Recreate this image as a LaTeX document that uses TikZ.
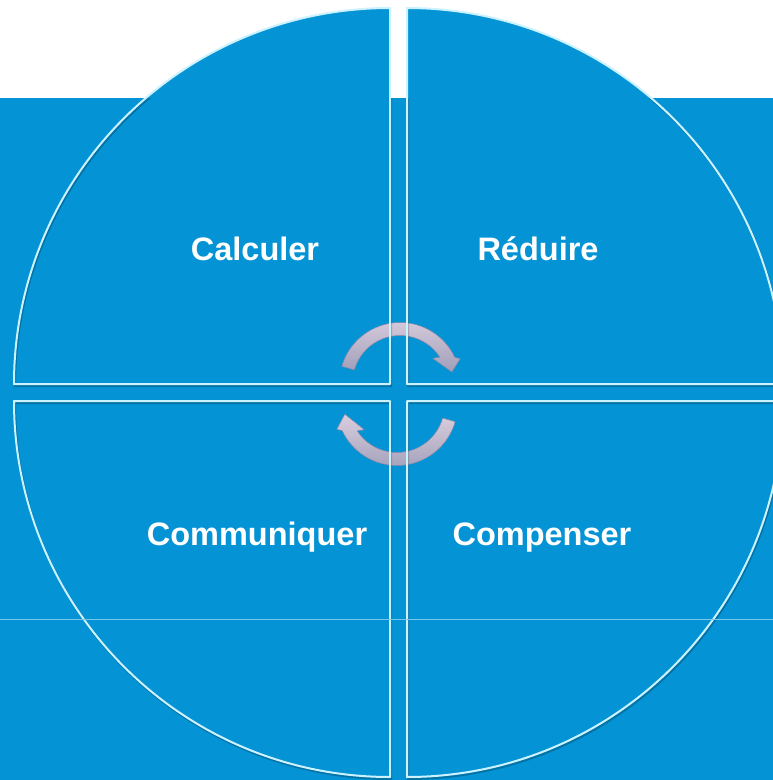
\documentclass[tikz,border=0pt]{standalone}
\usepackage{fontspec}
\setmainfont{Liberation Sans}
\usepackage{tikz}
\usetikzlibrary{positioning,calc}
\usepackage{xcolor}
\definecolor{quadblue}{RGB}{4,148,213}
\definecolor{edgecyan}{RGB}{205,242,255}
\definecolor{seamline}{RGB}{120,198,235}
\definecolor{arrowlight}{RGB}{218,206,222}
\definecolor{arrowdark}{RGB}{160,158,185}
\definecolor{arrowedge}{RGB}{135,135,165}

\tikzset{
  quadfill/.style={fill=quadblue},
  quadedge/.style={draw=edgecyan,line width=2pt,line join=round},
  quadshadow/.style={draw=black,opacity=0.22,line width=2pt},
  cyclearrow/.style={top color=arrowlight,bottom color=arrowdark,draw=arrowedge,line width=0.5pt,line join=round},
  quadlabel/.style={text=white,font=\fontsize{32.5}{39}\selectfont\bfseries,anchor=base}
}

\begin{document}
\begin{tikzpicture}[x=1pt,y=-1pt]
\useasboundingbox (0,0) rectangle (773,780);
\clip (0,0) rectangle (773,780);
% Background
\fill[white] (0,0) rectangle (773,780);
\fill[quadblue] (0,98) rectangle (773,780);
% Quadrants
\path[quadfill] (390,384) -- (14,384) arc[start angle=180,end angle=270,radius=376] -- cycle;
\path[quadfill] (407,384) -- (783,384) arc[start angle=0,end angle=-90,radius=376] -- cycle;
\path[quadfill] (390,401) -- (14,401) arc[start angle=180,end angle=90,radius=376] -- cycle;
\path[quadfill] (407,401) -- (783,401) arc[start angle=0,end angle=90,radius=376] -- cycle;
% Cycle arrows
\begin{scope}[shift={(400,383)}]
\path[cyclearrow] (196:60.5) arc[start angle=196,end angle=335,radius=60.5]
  -- (338:65) -- (348:53) -- (323:41) -- (327:47.5)
  arc[start angle=327,end angle=196,radius=47.5] -- cycle;
\end{scope}
\begin{scope}[shift={(397,405)}]
\path[cyclearrow] (16:60.5) arc[start angle=16,end angle=155,radius=60.5]
  -- (158:65) -- (170:53) -- (143:41) -- (147:47.5)
  arc[start angle=147,end angle=16,radius=47.5] -- cycle;
\end{scope}
% Quadrant outlines
\begin{scope}
\clip (0,98) rectangle (773,780);
\begin{scope}[shift={(1,2)}]
\draw[quadshadow] (390,384) -- (14,384) arc[start angle=180,end angle=270,radius=376] -- cycle;
\draw[quadshadow] (407,384) -- (783,384) arc[start angle=0,end angle=-90,radius=376] -- cycle;
\draw[quadshadow] (390,401) -- (14,401) arc[start angle=180,end angle=90,radius=376] -- cycle;
\draw[quadshadow] (407,401) -- (783,401) arc[start angle=0,end angle=90,radius=376] -- cycle;
\end{scope}
\end{scope}
\draw[quadedge] (390,384) -- (14,384) arc[start angle=180,end angle=270,radius=376] -- cycle;
\draw[quadedge] (407,384) -- (783,384) arc[start angle=0,end angle=-90,radius=376] -- cycle;
\draw[quadedge] (390,401) -- (14,401) arc[start angle=180,end angle=90,radius=376] -- cycle;
\draw[quadedge] (407,401) -- (783,401) arc[start angle=0,end angle=90,radius=376] -- cycle;
% Faint seam
\draw[seamline,line width=0.8pt] (0,619) -- (773,619);
% Labels
\node[quadlabel] (calculer) at (255,260) {Calculer};
\node[quadlabel] (reduire) at (538,260) {Réduire};
\node[quadlabel] (communiquer) at (257,545) {Communiquer};
\node[quadlabel] (compenser) at (542,545) {Compenser};
\end{tikzpicture}
\end{document}
